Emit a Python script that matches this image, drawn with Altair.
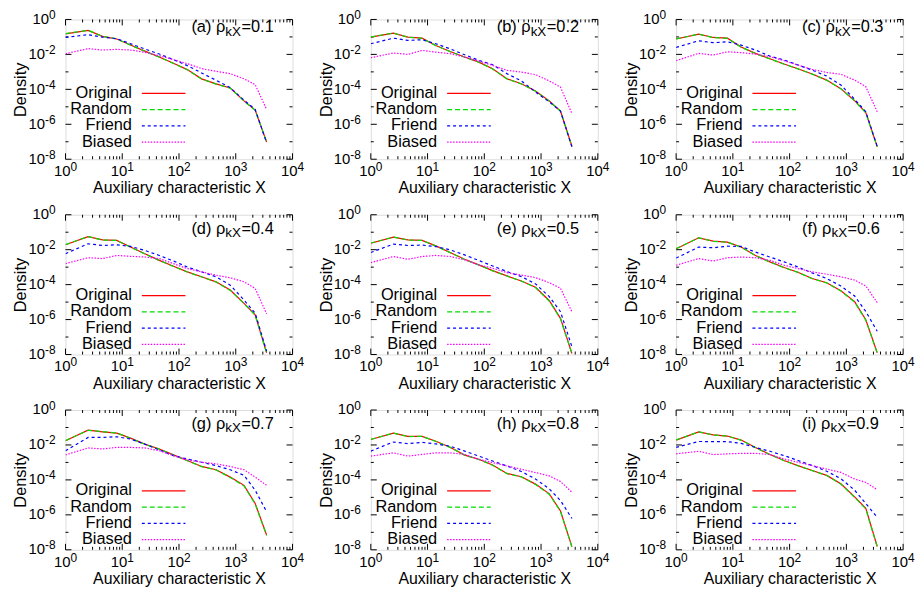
import altair as alt
import pandas as pd

FONT = "Liberation Sans"
W, H = 229, 141

# ---- data (x bins and log10 of the density) ----
X_BINS = [1, 2.5, 4.5, 8, 14, 25, 45, 80, 140, 250, 450, 800, 1400, 2200, 3500]
SERIES = ["Original", "Random", "Friend", "Biased"]
PANEL_TAGS = ["(a)", "(b)", "(c)", "(d)", "(e)", "(f)", "(g)", "(h)", "(i)"]
RHO_VALUES = ["0.1", "0.2", "0.3", "0.4", "0.5", "0.6", "0.7", "0.8", "0.9"]

A_ORIGINAL = [-0.82, -0.63, -0.97, -1.12, -1.46, -1.81, -2.15, -2.51, -2.87, -3.40, -3.69, -3.92, -4.66, -5.19, -7.01]
A_RANDOM = [-0.81, -0.62, -0.97, -1.11, -1.47, -1.82, -2.16, -2.52, -2.88, -3.41, -3.70, -3.93, -4.67, -5.20, -7.03]
A_FRIEND = [-1.03, -0.87, -1.01, -1.10, -1.39, -1.69, -1.98, -2.30, -2.64, -3.06, -3.48, -3.90, -4.62, -5.15, -7.05]
A_BIASED = [-1.96, -1.67, -1.75, -1.71, -1.75, -1.88, -2.07, -2.30, -2.53, -2.81, -2.97, -3.10, -3.40, -3.73, -5.15]

B_ORIGINAL = [-1.01, -0.78, -1.01, -1.07, -1.49, -1.83, -2.15, -2.44, -2.82, -3.39, -3.68, -4.10, -4.67, -5.24, -7.26]
B_RANDOM = [-1.00, -0.78, -1.02, -1.08, -1.50, -1.84, -2.16, -2.45, -2.83, -3.40, -3.69, -4.11, -4.68, -5.25, -7.28]
B_FRIEND = [-1.39, -1.07, -1.20, -1.16, -1.39, -1.68, -2.02, -2.34, -2.59, -3.10, -3.52, -4.15, -4.72, -5.24, -7.30]
B_BIASED = [-2.19, -1.92, -2.00, -1.77, -1.87, -1.96, -2.15, -2.38, -2.63, -2.91, -3.01, -3.16, -3.52, -3.87, -5.39]

C_ORIGINAL = [-1.12, -0.84, -1.03, -1.07, -1.58, -1.94, -2.25, -2.55, -2.82, -3.12, -3.47, -3.96, -4.65, -5.33, -7.28]
C_RANDOM = [-1.11, -0.84, -1.04, -1.08, -1.59, -1.95, -2.26, -2.56, -2.83, -3.13, -3.48, -3.97, -4.66, -5.34, -7.30]
C_FRIEND = [-1.60, -1.22, -1.33, -1.28, -1.47, -1.75, -2.10, -2.32, -2.61, -2.90, -3.24, -3.75, -4.57, -5.28, -7.28]
C_BIASED = [-2.36, -1.94, -2.04, -1.85, -1.90, -1.98, -2.13, -2.36, -2.61, -2.86, -3.03, -3.14, -3.47, -3.85, -5.28]

D_ORIGINAL = [-1.72, -1.25, -1.44, -1.47, -1.85, -2.23, -2.61, -2.95, -3.27, -3.55, -3.84, -4.31, -5.07, -5.73, -7.90]
D_RANDOM = [-1.71, -1.25, -1.45, -1.47, -1.86, -2.24, -2.62, -2.96, -3.28, -3.56, -3.85, -4.33, -5.09, -5.75, -7.92]
D_FRIEND = [-2.23, -1.66, -1.76, -1.72, -1.81, -2.04, -2.33, -2.65, -2.99, -3.27, -3.55, -4.03, -4.88, -5.63, -7.81]
D_BIASED = [-2.80, -2.46, -2.51, -2.33, -2.38, -2.42, -2.51, -2.80, -3.08, -3.27, -3.46, -3.61, -3.84, -4.22, -5.67]

E_ORIGINAL = [-1.63, -1.28, -1.44, -1.47, -1.78, -2.16, -2.55, -2.87, -3.20, -3.50, -3.79, -4.15, -4.92, -5.93, -7.94]
E_RANDOM = [-1.62, -1.28, -1.45, -1.47, -1.79, -2.17, -2.56, -2.88, -3.21, -3.51, -3.80, -4.17, -4.95, -5.95, -7.96]
E_FRIEND = [-2.16, -1.68, -1.76, -1.74, -1.82, -2.01, -2.30, -2.62, -2.93, -3.25, -3.54, -3.96, -4.69, -5.55, -7.56]
E_BIASED = [-2.74, -2.39, -2.55, -2.39, -2.33, -2.39, -2.58, -2.87, -3.06, -3.31, -3.45, -3.60, -3.89, -4.21, -5.55]

F_ORIGINAL = [-1.95, -1.32, -1.51, -1.57, -1.85, -2.33, -2.70, -3.02, -3.29, -3.65, -3.89, -4.35, -4.97, -6.01, -7.90]
F_RANDOM = [-1.94, -1.32, -1.52, -1.57, -1.86, -2.34, -2.71, -3.03, -3.30, -3.66, -3.90, -4.37, -5.00, -6.04, -7.92]
F_FRIEND = [-2.48, -1.85, -1.89, -1.80, -1.81, -2.14, -2.42, -2.70, -2.99, -3.33, -3.65, -4.08, -4.65, -5.54, -6.67]
F_BIASED = [-2.89, -2.51, -2.65, -2.46, -2.42, -2.46, -2.61, -2.89, -3.08, -3.27, -3.40, -3.55, -3.74, -4.08, -5.03]

G_ORIGINAL = [-1.76, -1.15, -1.25, -1.32, -1.61, -1.95, -2.23, -2.57, -2.89, -3.23, -3.42, -3.84, -4.31, -5.35, -7.15]
G_RANDOM = [-1.75, -1.16, -1.24, -1.31, -1.62, -1.96, -2.24, -2.58, -2.90, -3.24, -3.43, -3.86, -4.35, -5.38, -7.18]
G_FRIEND = [-2.33, -1.57, -1.57, -1.53, -1.66, -1.95, -2.29, -2.61, -2.80, -2.99, -3.18, -3.42, -3.74, -4.59, -5.82]
G_BIASED = [-2.57, -2.17, -2.23, -2.14, -2.14, -2.17, -2.33, -2.61, -2.85, -2.99, -3.08, -3.23, -3.42, -3.84, -4.31]

H_ORIGINAL = [-1.69, -1.32, -1.51, -1.51, -1.79, -2.13, -2.58, -2.82, -3.15, -3.63, -3.82, -4.24, -4.80, -5.78, -7.82]
H_RANDOM = [-1.68, -1.32, -1.52, -1.51, -1.80, -2.14, -2.59, -2.83, -3.16, -3.64, -3.83, -4.26, -4.83, -5.80, -7.85]
H_FRIEND = [-2.35, -1.83, -1.92, -1.85, -1.94, -2.07, -2.35, -2.64, -2.92, -3.20, -3.52, -3.95, -4.52, -5.18, -6.21]
H_BIASED = [-2.64, -2.45, -2.64, -2.54, -2.45, -2.45, -2.54, -2.82, -3.01, -3.20, -3.39, -3.58, -3.77, -4.09, -4.71]

I_ORIGINAL = [-1.72, -1.25, -1.42, -1.49, -1.72, -2.14, -2.55, -2.89, -3.18, -3.46, -3.74, -4.22, -4.97, -5.63, -7.81]
I_RANDOM = [-1.71, -1.25, -1.43, -1.49, -1.73, -2.15, -2.56, -2.90, -3.19, -3.47, -3.75, -4.24, -5.00, -5.66, -7.84]
I_FRIEND = [-2.14, -1.80, -1.81, -1.81, -1.91, -2.14, -2.36, -2.61, -2.89, -3.18, -3.50, -3.93, -4.59, -5.35, -6.14]
I_BIASED = [-2.51, -2.36, -2.55, -2.51, -2.48, -2.48, -2.55, -2.80, -2.99, -3.18, -3.38, -3.57, -3.95, -4.14, -4.56]

PANEL_DATA = [
    (A_ORIGINAL, A_RANDOM, A_FRIEND, A_BIASED),
    (B_ORIGINAL, B_RANDOM, B_FRIEND, B_BIASED),
    (C_ORIGINAL, C_RANDOM, C_FRIEND, C_BIASED),
    (D_ORIGINAL, D_RANDOM, D_FRIEND, D_BIASED),
    (E_ORIGINAL, E_RANDOM, E_FRIEND, E_BIASED),
    (F_ORIGINAL, F_RANDOM, F_FRIEND, F_BIASED),
    (G_ORIGINAL, G_RANDOM, G_FRIEND, G_BIASED),
    (H_ORIGINAL, H_RANDOM, H_FRIEND, H_BIASED),
    (I_ORIGINAL, I_RANDOM, I_FRIEND, I_BIASED),
]

# tick values and their exponent labels
X_MAJOR = [1, 10, 100, 1000, 10000]
X_EXP = ["0", "1", "2", "3", "4"]
Y_MAJOR = [1e-8, 1e-6, 1e-4, 1e-2, 1]
Y_EXP = ["-8", "-6", "-4", "-2", "0"]
X_MINOR = [m * 10 ** k for k in range(4) for m in range(2, 10)]
Y_MINOR = [1e-7, 1e-5, 1e-3, 1e-1]

# ---- style ----
COLORS = ["#ff0000", "#00dd00", "#0000ff", "#ff00ff"]
DASHES = [None, [5, 3], [3, 3], [1.5, 1.5]]

x_scale = alt.Scale(type="log", domain=[1, 10000])
y_scale = alt.Scale(type="log", domain=[1e-8, 1])

x_axis = alt.Axis(values=X_MAJOR, labels=False, ticks=False, domain=False, grid=False,
                  title="Auxiliary characteristic X", titleFont=FONT, titleFontSize=16,
                  titleFontWeight="normal", titleColor="black", titleX=W / 2, titleY=34,
                  titleAlign="center", titleBaseline="alphabetic")
y_axis = alt.Axis(values=Y_MAJOR, labels=False, ticks=False, domain=False, grid=False,
                  title="Density", titleFont=FONT, titleFontSize=16.5, titleFontWeight="normal",
                  titleColor="black", titleX=-45, titleY=H / 2, titleAngle=270,
                  titleAlign="center", titleBaseline="middle")

# Arial-compatible advance widths (per 1000 em), used to place sub/superscripts
ADV = {"(": 333, ")": 333, " ": 278, "a": 556, "b": 556, "c": 500, "d": 556, "e": 556,
       "f": 278, "g": 556, "h": 556, "i": 222, "\u03c1": 578, "k": 500, "X": 667,
       "=": 584, ".": 278, "-": 333}
for ch in "0123456789":
    ADV[ch] = 556


def text_width(s, size):
    return sum(ADV.get(c, 556) for c in s) * size / 1000.0


ONE = pd.DataFrame({"k": [0]})
TICK_SIZE = 15
SUP_SIZE = 12
SUP_RAISE = 5
LABEL_X = 127
LABEL_SIZE = 16.5
SUB_SIZE = 13.5
TITLE_BASE = [13, 19, 19]
LEGEND_TOP = [74, 81, 81]
LEGEND_STEP = 16.4


def xtick_layer(vals, y0, y1):
    return alt.Chart(pd.DataFrame({"x": vals})).mark_rule(color="black", strokeWidth=1).encode(
        x=alt.X("x:Q", scale=x_scale, axis=x_axis), y=alt.value(y0), y2=alt.value(y1))


def ytick_layer(vals, x0, x1):
    return alt.Chart(pd.DataFrame({"density": vals})).mark_rule(color="black", strokeWidth=1).encode(
        y=alt.Y("density:Q", scale=y_scale, axis=y_axis), x=alt.value(x0), x2=alt.value(x1))


def tick_label_layers():
    out = []
    w10 = text_width("10", TICK_SIZE)
    base_x = H + 17
    for v, e in zip(X_MAJOR, X_EXP):
        total = w10 + text_width(e, SUP_SIZE)
        d = pd.DataFrame({"x": [v]})
        enc = dict(x=alt.X("x:Q", scale=x_scale, axis=x_axis))
        out.append(alt.Chart(d).mark_text(align="left", baseline="alphabetic", font=FONT,
                                          fontSize=TICK_SIZE, color="black", dx=-total / 2).encode(
            y=alt.value(base_x), text=alt.value("10"), **enc))
        out.append(alt.Chart(d).mark_text(align="left", baseline="alphabetic", font=FONT,
                                          fontSize=SUP_SIZE, color="black", dx=-total / 2 + w10).encode(
            y=alt.value(base_x - SUP_RAISE), text=alt.value(e), **enc))
    right = -10
    for v, e in zip(Y_MAJOR, Y_EXP):
        we = text_width(e, SUP_SIZE)
        d = pd.DataFrame({"density": [v]})
        enc = dict(y=alt.Y("density:Q", scale=y_scale, axis=y_axis))
        out.append(alt.Chart(d).mark_text(align="right", baseline="alphabetic", font=FONT,
                                          fontSize=TICK_SIZE, color="black", dy=4.5).encode(
            x=alt.value(right - we), text=alt.value("10"), **enc))
        out.append(alt.Chart(d).mark_text(align="right", baseline="alphabetic", font=FONT,
                                          fontSize=SUP_SIZE, color="black", dy=4.5 - SUP_RAISE).encode(
            x=alt.value(right), text=alt.value(e), **enc))
    return out


def panel(idx):
    row = idx // 3
    layers = [
        xtick_layer(X_MAJOR, H, H - 6), xtick_layer(X_MAJOR, 0, 6),
        xtick_layer(X_MINOR, H, H - 3), xtick_layer(X_MINOR, 0, 3),
        ytick_layer(Y_MAJOR, 0, 6), ytick_layer(Y_MAJOR, W, W - 6),
        ytick_layer(Y_MINOR, 0, 3), ytick_layer(Y_MINOR, W, W - 3),
    ]
    layers += tick_label_layers()
    for name, vals, color, dash in zip(SERIES, PANEL_DATA[idx], COLORS, DASHES):
        df = pd.DataFrame({"x": X_BINS, "log10_density": vals})
        df["density"] = 10.0 ** df["log10_density"]
        mk = dict(clip=True, color=color, strokeWidth=1.2)
        if dash:
            mk["strokeDash"] = dash
        layers.append(alt.Chart(df).mark_line(**mk).encode(
            x=alt.X("x:Q", scale=x_scale, axis=x_axis),
            y=alt.Y("density:Q", scale=y_scale, axis=y_axis)))
    # key
    for j, (name, color, dash) in enumerate(zip(SERIES, COLORS, DASHES)):
        yy = LEGEND_TOP[row] + j * LEGEND_STEP
        layers.append(alt.Chart(ONE).mark_text(align="right", baseline="middle", font=FONT,
                                               fontSize=16.5, color="black").encode(
            x=alt.value(67), y=alt.value(yy), text=alt.value(name)))
        mk = dict(color=color, strokeWidth=1.2)
        if dash:
            mk["strokeDash"] = dash
        layers.append(alt.Chart(ONE).mark_rule(**mk).encode(
            x=alt.value(77), x2=alt.value(121), y=alt.value(yy + 0.5)))
    # panel label: (a) rho_kX=0.1
    part1 = PANEL_TAGS[idx] + " \u03c1"
    part2 = "kX"
    part3 = "=" + RHO_VALUES[idx]
    x1 = LABEL_X
    x2 = x1 + text_width(part1, LABEL_SIZE)
    x3 = x2 + text_width(part2, SUB_SIZE) + 0.5
    base = TITLE_BASE[row]
    for txt, xx, size, dy in [(part1, x1, LABEL_SIZE, 0), (part2, x2, SUB_SIZE, 3.5), (part3, x3, LABEL_SIZE, 0)]:
        layers.append(alt.Chart(ONE).mark_text(align="left", baseline="alphabetic", font=FONT,
                                               fontSize=size, color="black").encode(
            x=alt.value(xx), y=alt.value(base + dy), text=alt.value(txt)))
    return alt.layer(*layers).properties(width=W, height=H)


chart = alt.concat(*[panel(i) for i in range(9)], columns=3,
                   spacing={"row": 56, "column": 79}, bounds="flush").properties(
    padding={"left": 4, "top": -2, "right": 0, "bottom": 0}
).configure_view(stroke="black", strokeWidth=1).configure(background="white")

chart.save("out.html", embed_options={"renderer": "svg", "actions": False})
